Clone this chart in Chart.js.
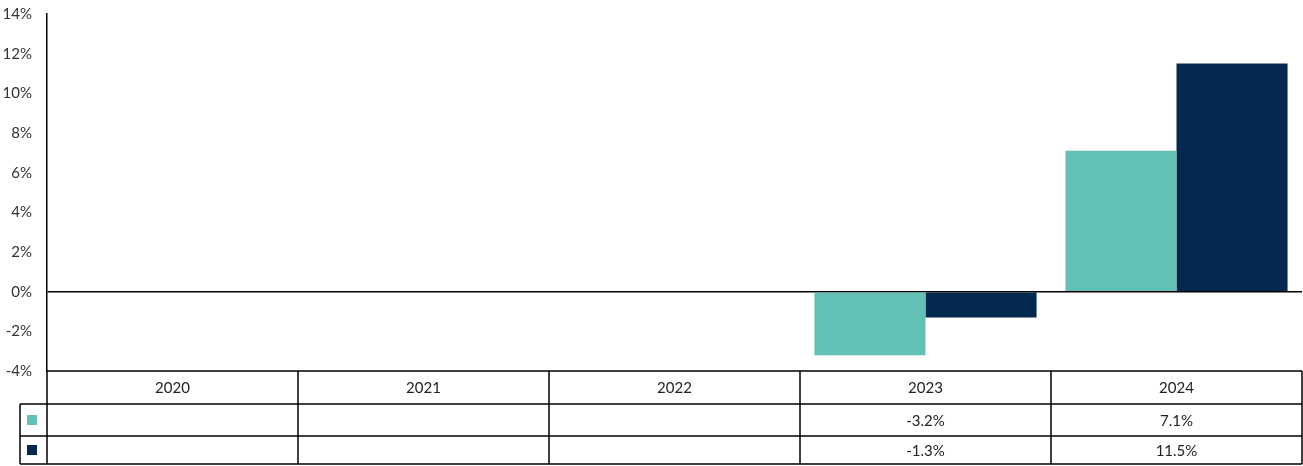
<!DOCTYPE html>
<html>
<head>
<meta charset="utf-8">
<script src="https://cdn.jsdelivr.net/npm/chart.js@4/dist/chart.umd.min.js"></script>
<style>
  html, body { margin: 0; padding: 0; background: #fff; }
  #chart { display: block; }
</style>
</head>
<body>
<canvas id="chart" width="1303" height="466"></canvas>
<script>
// data
var years = ["2020", "2021", "2022", "2023", "2024"];
var seriesA = [null, null, null, -3.2, 7.1];
var seriesB = [null, null, null, -1.3, 11.5];
var colorA = "#62c0b4";
var colorB = "#03294f";
var yMin = -4;
var yMax = 14;
var yStep = 2;

var fontFamily = "Lato, 'Noto Sans', sans-serif";

function fmt(v) {
    return v === null ? "" : v.toFixed(1) + "%";
}

// draws the data table under the plot, using the x scale for column edges
var tablePlugin = {
    id: "dataTable",
    afterDraw: function (chart) {
        var ctx = chart.ctx;
        var x = chart.scales.x;
        var area = chart.chartArea;
        var top = area.bottom;
        var rows = [top, top + 33, top + 65, top + 93];
        var half = (x.getPixelForValue(1) - x.getPixelForValue(0)) / 2;
        var left = x.getPixelForValue(0) - half;
        var right = x.getPixelForValue(years.length - 1) + half;
        var legLeft = 20;

        ctx.save();
        ctx.strokeStyle = "#000";
        ctx.lineWidth = 1.5;

        // horizontal lines
        ctx.beginPath();
        ctx.moveTo(left, rows[0]); ctx.lineTo(right, rows[0]);
        ctx.moveTo(legLeft, rows[1]); ctx.lineTo(right, rows[1]);
        ctx.moveTo(legLeft, rows[2]); ctx.lineTo(right, rows[2]);
        ctx.moveTo(legLeft, rows[3]); ctx.lineTo(right, rows[3]);
        // legend column left edge
        ctx.moveTo(legLeft, rows[1]); ctx.lineTo(legLeft, rows[3]);
        // column edges
        for (var i = 0; i <= years.length; i++) {
            var cx = left + i * half * 2;
            ctx.moveTo(cx, rows[0]); ctx.lineTo(cx, rows[3]);
        }
        ctx.stroke();

        // legend squares
        ctx.fillStyle = colorA;
        ctx.fillRect(27, rows[1] + 11, 10, 10);
        ctx.fillStyle = colorB;
        ctx.fillRect(27, rows[2] + 9, 10, 10);

        // text
        ctx.fillStyle = "#222";
        ctx.font = "15px " + fontFamily;
        ctx.textAlign = "center";
        ctx.textBaseline = "middle";
        years.forEach(function (y, i) {
            var cx = x.getPixelForValue(i);
            ctx.fillText(y, cx, (rows[0] + rows[1]) / 2 + 1);
            ctx.fillText(fmt(seriesA[i]), cx, (rows[1] + rows[2]) / 2 + 1);
            ctx.fillText(fmt(seriesB[i]), cx, (rows[2] + rows[3]) / 2 + 1);
        });
        ctx.restore();
    }
};

var chart = new Chart("chart", {
    type: "bar",
    data: {
        labels: years,
        datasets: [
            {
                data: seriesA,
                backgroundColor: colorA,
            },
            {
                data: seriesB,
                backgroundColor: colorB,
            },
        ],
    },
    options: {
        responsive: false,
        animation: false,
        layout: {
            padding: { top: 14, bottom: 95, right: 1, left: 0 },
        },
        datasets: {
            bar: {
                categoryPercentage: 0.885,
                barPercentage: 1,
            },
        },
        plugins: {
            legend: { display: false },
            tooltip: { enabled: false },
        },
        scales: {
            x: {
                display: false,
            },
            y: {
                min: yMin,
                max: yMax,
                afterFit: function (scale) {
                    scale.width = 47;
                    scale.paddingTop = 0;
                    scale.paddingBottom = 0;
                },
                ticks: {
                    stepSize: yStep,
                    padding: 15,
                    color: "#333",
                    font: { size: 15, family: fontFamily },
                    callback: function (v) {
                        return v + "%";
                    },
                },
                border: { display: true, color: "#000", width: 1.5 },
                grid: {
                    drawTicks: false,
                    lineWidth: 1.5,
                    color: function (c) {
                        return c.tick && c.tick.value === 0 ? "#000" : "rgba(0,0,0,0)";
                    },
                },
            },
        },
    },
    plugins: [tablePlugin],
});
</script>
</body>
</html>
